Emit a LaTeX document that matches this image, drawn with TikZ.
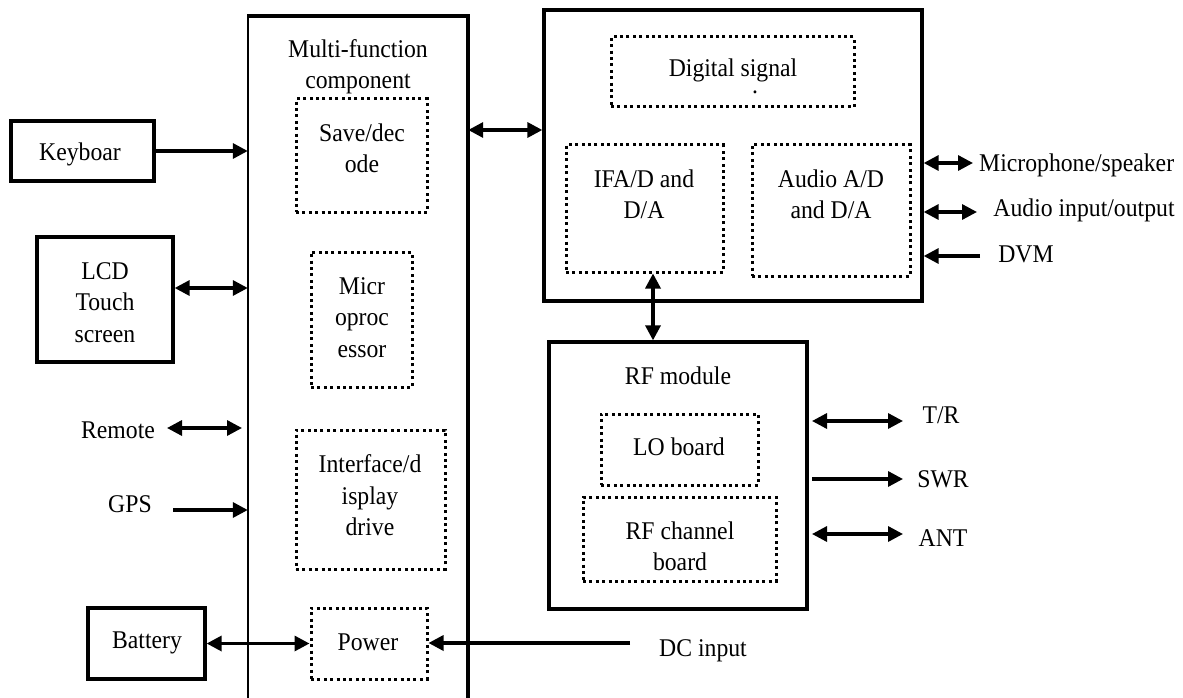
\documentclass[tikz,border=0pt]{standalone}
\usepackage{fontspec}
\setmainfont{Liberation Serif}[FakeStretch=0.93]
\usetikzlibrary{arrows.meta}
\begin{document}
\begin{tikzpicture}[x=1pt,y=-1pt,
  txt/.style={font=\fontsize{25.5pt}{31.5pt}\selectfont, align=center, inner sep=0pt, yshift=-2.5pt},
  sbox/.style={draw, line width=3.3pt, inner sep=0pt},
  dbox/.style={draw, line width=3pt, dash pattern=on 3pt off 3.4pt, inner sep=0pt},
  tip/.tip={Triangle[length=15pt,width=15pt]},
  conn/.style={line width=3.3pt, -tip},
  conn2/.style={line width=3.3pt, tip-tip}]
\clip (0,0) rectangle (1183,698);
\fill[white] (0,0) rectangle (1183,698);

% left boxes
\node[sbox, minimum width=143pt, minimum height=60pt] (kb) at (82.5,151) {};
\node[txt] (kbt) at (80,152) {Keyboar};
\node[sbox, minimum width=136pt, minimum height=125pt] (lcd) at (105,299.5) {};
\node[txt] (lcdt) at (105,300) {LCD\\Touch\\screen};
\node[sbox, minimum width=117pt, minimum height=71pt] (bat) at (146.5,643.5) {};
\node[txt] (batt) at (147,640) {Battery};

% multi-function component
\node[inner sep=0pt, minimum width=220pt, minimum height=704pt] (multi) at (358,368) {};
\draw[line width=3.6pt] (multi.south east) -- (multi.north east) -- (multi.north west);
\draw[line width=2.6pt] ([yshift=1.5pt]multi.north west) -- (multi.south west);
\node[txt] (multit) at (358,64) {Multi-function\\component};
\node[dbox, minimum width=131pt, minimum height=113pt] (save) at (361.5,155.5) {};
\node[txt] (savet) at (362,146) {Save/dec\\ode};
\node[dbox, minimum width=101pt, minimum height=135pt] (micro) at (361.5,319.5) {};
\node[txt] (microt) at (362,315) {Micr\\oproc\\essor};
\node[dbox, minimum width=149pt, minimum height=139pt] (intf) at (370.5,499.5) {};
\node[txt] (intft) at (370,493) {Interface/d\\isplay\\drive};
\node[dbox, minimum width=116pt, minimum height=71pt] (power) at (369,643.5) {};
\node[txt] (powert) at (368,640) {Power};

% DSP module
\node[sbox, minimum width=378pt, minimum height=291pt] (dsp) at (733,155.5) {};
\node[dbox, minimum width=243pt, minimum height=70pt] (dig) at (732.5,72) {};
\node[txt] (digt) at (733,68) {Digital signal};
\node[txt] (dot) at (755,89.5) {.};
\node[dbox, minimum width=157pt, minimum height=127pt] (ifa) at (644.5,208.5) {};
\node[txt] (ifat) at (644,192) {IFA/D and\\D/A};
\node[dbox, minimum width=158pt, minimum height=131pt] (aud) at (831,210.5) {};
\node[txt] (audt) at (831,192) {Audio A/D\\and D/A};

% RF module
\node[sbox, minimum width=258pt, minimum height=267pt] (rf) at (678,475.5) {};
\node[txt] (rft) at (678,373) {RF module};
\node[dbox, minimum width=157pt, minimum height=71pt] (lo) at (679.5,449.5) {};
\node[txt] (lot) at (679,444) {LO board};
\node[dbox, minimum width=193pt, minimum height=84pt] (rfch) at (679.5,539) {};
\node[txt] (rfcht) at (680,544) {RF channel\\board};

% external labels
\node[txt] (remote) at (118,428) {Remote};
\node[txt] (gps) at (130,502) {GPS};
\node[txt] (dcin) at (703,648) {DC input};
\node[txt, anchor=west] (mic) at (979,163) {Microphone/speaker};
\node[txt] (aio) at (1084,208) {Audio input/output};
\node[txt] (dvm) at (1026,252) {DVM};
\node[txt] (tr) at (941,413) {T/R};
\node[txt] (swr) at (943,477) {SWR};
\node[txt] (ant) at (943,536) {ANT};

% free ends
\coordinate (remA) at (167,428);
\coordinate (remB) at (242,428);
\coordinate (gpsA) at (173,510);
\coordinate (dcA) at (630,643);
\coordinate (micA) at (973,163);
\coordinate (aioA) at (977,212);
\coordinate (dvmA) at (980,256);
\coordinate (trA) at (812,421);
\coordinate (trB) at (903,421);
\coordinate (swrA) at (812,479);
\coordinate (swrB) at (903,479);
\coordinate (antA) at (812,534);
\coordinate (antB) at (903,534);

% connectors
\draw[conn] (kb.east) -- (kb.east -| multi.west);
\draw[conn2] ([yshift=11.5pt]lcd.east) -- ([yshift=11.5pt]lcd.east -| multi.west);
\draw[conn2] (remA) -- (remB);
\draw[conn] (gpsA) -- (gpsA -| multi.west);
\draw[conn2] (bat.east) -- (bat.east -| power.west);
\draw[conn] (dcA) -- (dcA -| power.east);
\draw[conn2] (multi.east |- 0,130) -- (dsp.west |- 0,130);
\draw[conn2] (dsp.east |- micA) -- (micA);
\draw[conn2] (dsp.east |- aioA) -- (aioA);
\draw[conn] (dvmA) -- (dvmA -| dsp.east);
\draw[conn2] (ifa.south -| 653,0) -- (rf.north -| 653,0);
\draw[conn2] (trA) -- (trB);
\draw[conn] (swrA) -- (swrB);
\draw[conn2] (antA) -- (antB);
\end{tikzpicture}
\end{document}
